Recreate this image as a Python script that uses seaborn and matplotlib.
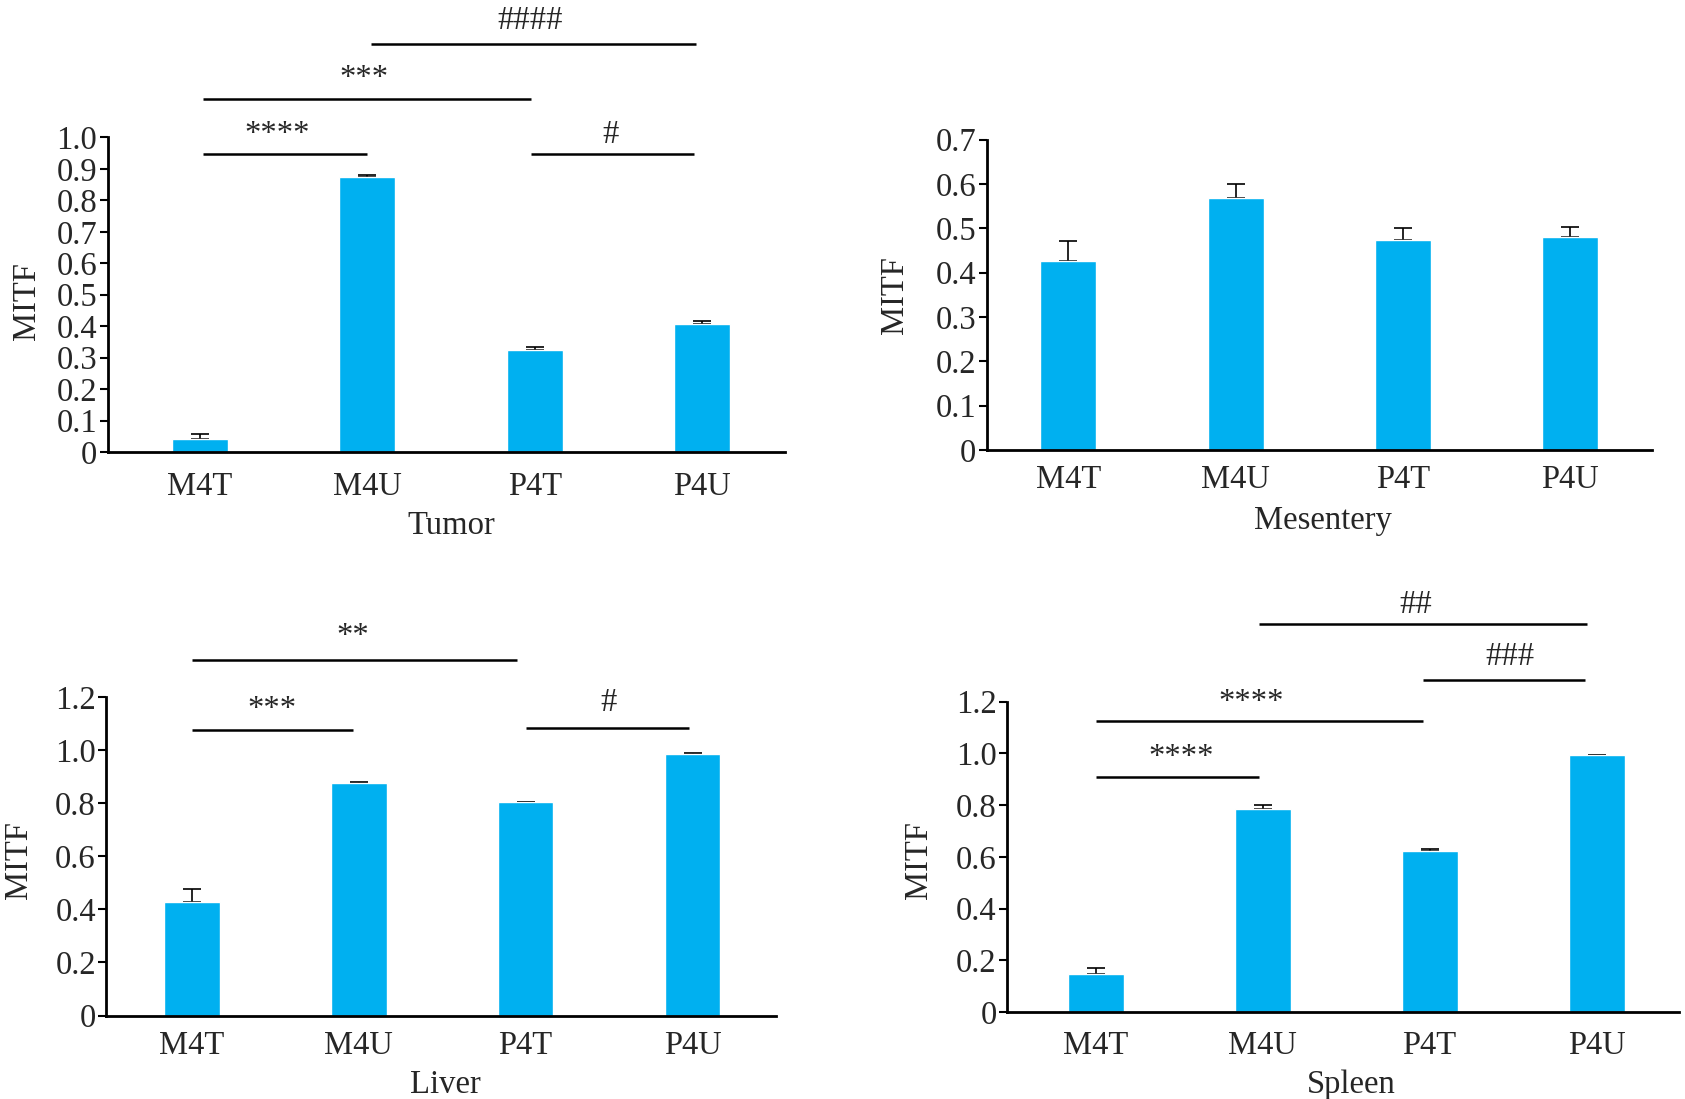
import numpy as np
import pandas as pd
import matplotlib
matplotlib.use("Agg")
import matplotlib.pyplot as plt
import seaborn as sns

# ---------------- data ----------------
categories = ["M4T", "M4U", "P4T", "P4U"]

tumor_values = [0.040, 0.874, 0.325, 0.406]
tumor_err = [0.018, 0.008, 0.008, 0.009]

mesentery_values = [0.427, 0.568, 0.473, 0.481]
mesentery_err = [0.045, 0.032, 0.027, 0.023]

liver_values = [0.427, 0.876, 0.805, 0.988]
liver_err = [0.050, 0.005, 0.002, 0.003]

spleen_values = [0.148, 0.784, 0.624, 0.992]
spleen_err = [0.022, 0.015, 0.008, 0.002]

tumor_yticks = [0, 0.1, 0.2, 0.3, 0.4, 0.5, 0.6, 0.7, 0.8, 0.9, 1.0]
tumor_yticklabels = ["0", "0.1", "0.2", "0.3", "0.4", "0.5", "0.6", "0.7", "0.8", "0.9", "1.0"]
mesentery_yticks = [0, 0.1, 0.2, 0.3, 0.4, 0.5, 0.6, 0.7]
mesentery_yticklabels = ["0", "0.1", "0.2", "0.3", "0.4", "0.5", "0.6", "0.7"]
organ_yticks = [0, 0.2, 0.4, 0.6, 0.8, 1.0, 1.2]
organ_yticklabels = ["0", "0.2", "0.4", "0.6", "0.8", "1.0", "1.2"]

# significance annotations: (label, x_start, x_end, line_y, text_x, text_y)
tumor_sig = [
    ("****", 0.02, 1.00, 0.948, 0.46, 0.981),
    ("***", 0.02, 1.98, 1.123, 0.98, 1.162),
    ("####", 1.02, 2.96, 1.297, 1.97, 1.344),
    ("#", 1.98, 2.95, 0.948, 2.45, 0.982),
]
liver_sig = [
    ("***", 0.00, 0.965, 1.078, 0.48, 1.121),
    ("**", 0.00, 1.95, 1.342, 0.965, 1.397),
    ("#", 2.00, 2.98, 1.086, 2.50, 1.150),
]
spleen_sig = [
    ("****", 0.00, 0.98, 0.909, 0.51, 0.953),
    ("****", 0.00, 1.96, 1.125, 0.93, 1.165),
    ("###", 1.96, 2.93, 1.283, 2.48, 1.340),
    ("##", 0.98, 2.94, 1.499, 1.92, 1.544),
]
mesentery_sig = []

# ---------------- style ----------------
sns.set_style("ticks")
plt.rcParams["font.family"] = ["Liberation Serif", "DejaVu Serif"]
BAR_COLOR = "#00B0F0"
FS = 23.5

W, H = 1685, 1099
fig = plt.figure(figsize=(W / 100, H / 100), dpi=100)


def px_axes(left, right, bottom, top):
    return fig.add_axes([left / W, 1 - bottom / H, (right - left) / W, (bottom - top) / H])


panels = [
    # name, values, err, yticks, labels, ymax, xlim, axes px, xlabel center, ylabel center, sig, xtick pad
    ("Tumor", tumor_values, tumor_err, tumor_yticks, tumor_yticklabels, 1.0,
     (-0.55, 3.49), (107.5, 784.5, 452, 137.5), (451, 526), (27, 301), tumor_sig, 14.0),
    ("Mesentery", mesentery_values, mesentery_err, mesentery_yticks, mesentery_yticklabels, 0.7,
     (-0.49, 3.49), (986.5, 1651.7, 450, 139.7), (1323, 521), (895, 295.5), mesentery_sig, 10.5),
    ("Liver", liver_values, liver_err, organ_yticks, organ_yticklabels, 1.2,
     (-0.51, 3.50), (106.4, 776, 1015.5, 697.4), (445, 1085), (19, 860), liver_sig, 11.0),
    ("Spleen", spleen_values, spleen_err, organ_yticks, organ_yticklabels, 1.2,
     (-0.53, 3.49), (1007, 1678.5, 1012, 701.7), (1351, 1085), (919, 860), spleen_sig, 13.5),
]

for (name, vals, errs, yt, ytl, ymax, xlim, box, xlab_c, ylab_c, sig, xpad) in panels:
    ax = px_axes(*box)
    df = pd.DataFrame({"group": categories, "MITF": vals})
    sns.barplot(data=df, x="group", y="MITF", color=BAR_COLOR, saturation=1,
                width=0.335, errorbar=None, ax=ax, zorder=2)
    xpos = np.arange(len(categories))
    ax.errorbar(xpos, vals, yerr=[np.zeros(len(errs)), errs], fmt="none",
                ecolor="black", elinewidth=1.2, capsize=6.5, capthick=1.2, zorder=1)
    ax.set_xlim(*xlim)
    ax.set_ylim(0, ymax)
    ax.set_yticks(yt)
    ax.set_yticklabels(ytl, fontsize=FS)
    ax.tick_params(axis="y", length=5.5, width=1.5, pad=2, direction="out", color="black")
    ax.tick_params(axis="x", length=0, pad=xpad, labelsize=FS)
    for lbl in ax.get_xticklabels():
        lbl.set_fontsize(FS)
    sns.despine(ax=ax)
    for s in ("left", "bottom"):
        ax.spines[s].set_linewidth(2.0)
        ax.spines[s].set_color("black")
    ax.set_facecolor("none")
    ax.set_xlabel(name, fontsize=FS, va="center", ha="center")
    ax.xaxis.set_label_coords(xlab_c[0] / W, 1 - xlab_c[1] / H, transform=fig.transFigure)
    ax.set_ylabel("MITF", fontsize=FS, va="center", ha="center")
    ax.yaxis.set_label_coords(ylab_c[0] / W, 1 - ylab_c[1] / H, transform=fig.transFigure)
    for (txt, x0, x1, ly, tx, ty) in sig:
        ax.plot([x0, x1], [ly, ly], color="black", lw=1.8, clip_on=False, solid_capstyle="butt")
        ax.text(tx, ty, txt, fontsize=FS, ha="center", va="baseline", clip_on=False)

fig.savefig("out.png", dpi=100, facecolor="white")
